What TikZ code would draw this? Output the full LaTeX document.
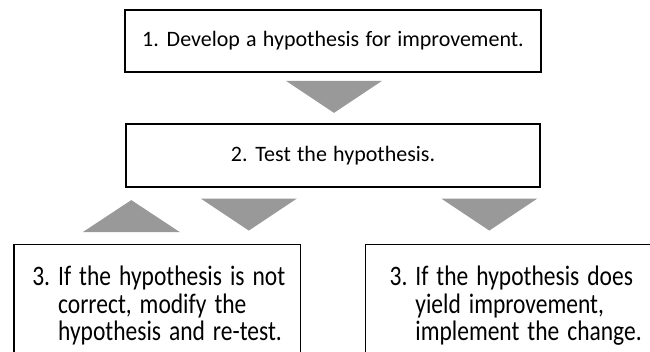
\documentclass[tikz,border=0pt]{standalone}
\usepackage{fontspec}
\setmainfont[WordSpace=1.25]{Carlito}
\usetikzlibrary{positioning}
\definecolor{arrgray}{RGB}{153,153,153}
\newcommand{\stepthree}[1]{\scalebox{1}[1.2]{\fontsize{23.5}{22}\selectfont\spaceskip=0.34em\begin{tabular}{@{}l@{\ }l@{}}#1\end{tabular}}}

\begin{document}
\begin{tikzpicture}[x=1pt, y=1pt, node distance={114.5pt}, line width=1.2pt,
  main/.style = {draw, rectangle, inner sep=0pt, font=\fontsize{22}{26}\selectfont},
  stepbox/.style = {draw, rectangle, anchor=north west, minimum height=126pt, inner ysep=0pt, align=left},
  tridown/.pic = {\fill[arrgray] (-48,16) -- (48,16) -- (0,-16) -- cycle;},
  triup/.pic = {\fill[arrgray] (-48.5,-16) -- (48.5,-16) -- (0,16) -- cycle;}]
\clip (0,0) rectangle (650,351);
\node[main, minimum width=416pt, minimum height=62pt] (1) at (333,310) {1. Develop a hypothesis for improvement.};
\node[main, minimum width=414pt, minimum height=63pt] (2) [below of=1] {2. Test the hypothesis.};
\node[stepbox, minimum width=286.7pt, inner xsep=18.4pt, text width=249.9pt] (3) at (13.3,107) {\stepthree{3. & If the hypothesis is not\\ & correct, modify the\\ & hypothesis and re-test.}};
\node[stepbox, minimum width=300pt, inner xsep=24pt, text width=252pt] (4) at (365,107) {\stepthree{3. & If the hypothesis does\\ & yield improvement,\\ & implement the change.}};
\pic at ([xshift=1pt, yshift=-24.25pt]1.south) {tridown};
\pic at ([xshift=-84.2pt, yshift=-27pt]2.south) {tridown};
\pic at ([xshift=156.3pt, yshift=-27pt]2.south) {tridown};
\pic at ([xshift=-201.7pt, yshift=-28.5pt]2.south) {triup};
\end{tikzpicture}
\end{document}
